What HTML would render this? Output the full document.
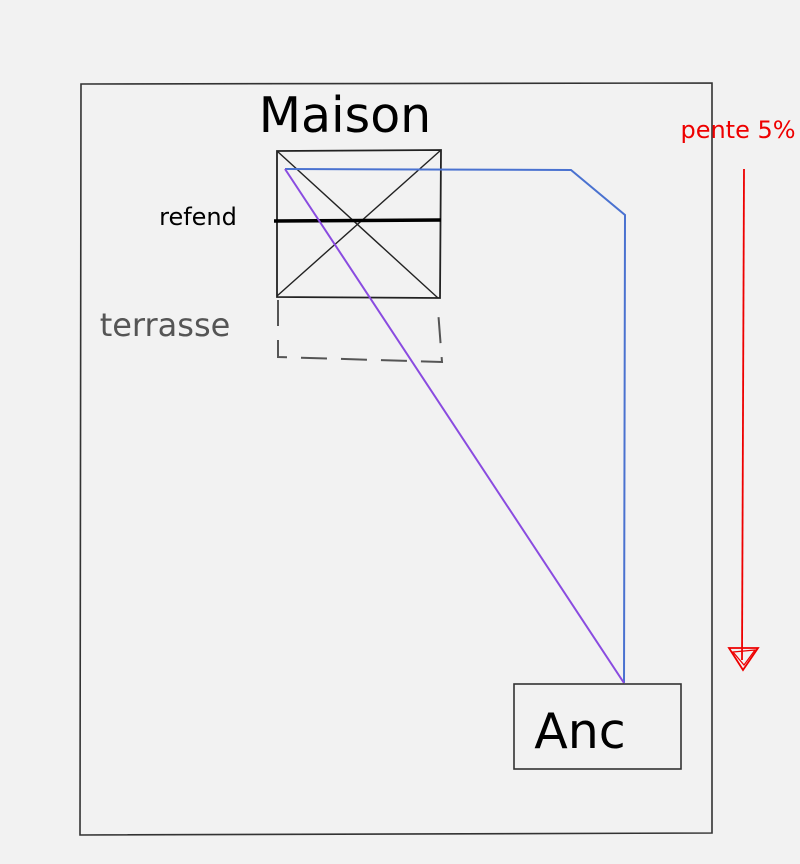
<!DOCTYPE html>
<html><head><meta charset="utf-8"><style>
html,body{margin:0;padding:0;background:#f2f2f2;}
svg{display:block;}
</style></head><body>
<svg width="800" height="864" viewBox="0 0 800 864" xmlns="http://www.w3.org/2000/svg">
<rect width="800" height="864" fill="#f2f2f2"/>
<path d="M81 84 L712 83 L712 833 L80 835 Z" fill="none" stroke="#333" stroke-width="1.6"/>
<text x="345" y="132" font-family="'DejaVu Sans','Liberation Sans',sans-serif" font-size="49" text-anchor="middle" fill="#000">Maison</text>
<text x="198" y="225" font-family="'DejaVu Sans','Liberation Sans',sans-serif" font-size="24" text-anchor="middle" fill="#000">refend</text>
<text x="165" y="336" font-family="'DejaVu Sans','Liberation Sans',sans-serif" font-size="32" text-anchor="middle" fill="#555">terrasse</text>
<text x="738" y="138" font-family="'DejaVu Sans','Liberation Sans',sans-serif" font-size="24" text-anchor="middle" fill="#e00">pente 5%</text>
<text x="580" y="748" font-family="'DejaVu Sans','Liberation Sans',sans-serif" font-size="49" text-anchor="middle" fill="#000">Anc</text>
<path d="M277 151 L441 150 L440 298 L277 297 Z" fill="none" stroke="#222" stroke-width="1.8"/>
<line x1="277" y1="151" x2="438" y2="298" stroke="#222" stroke-width="1.4"/>
<line x1="441" y1="150" x2="277" y2="296" stroke="#222" stroke-width="1.4"/>
<line x1="274" y1="221" x2="441" y2="220" stroke="#000" stroke-width="3.5"/>
<path d="M278 300 L278 357 L442 362 L438 310" fill="none" stroke="#555" stroke-width="2" stroke-dasharray="26,14"/>
<polyline points="285,169 571,170 625,215 624,683" fill="none" stroke="#4a72d0" stroke-width="2"/>
<line x1="285" y1="169" x2="624" y2="683" stroke="#8a4be0" stroke-width="2"/>
<rect x="514" y="684" width="167" height="85" fill="none" stroke="#333" stroke-width="1.6"/>
<line x1="744" y1="169" x2="742" y2="660" stroke="#e00" stroke-width="1.8"/>
<path d="M729 648 L758 648 L743 670 Z" fill="none" stroke="#e00" stroke-width="1.8"/>
<path d="M733 652 L755 650 L744 665 Z" fill="none" stroke="#e00" stroke-width="1.2"/>
</svg>
</body></html>
